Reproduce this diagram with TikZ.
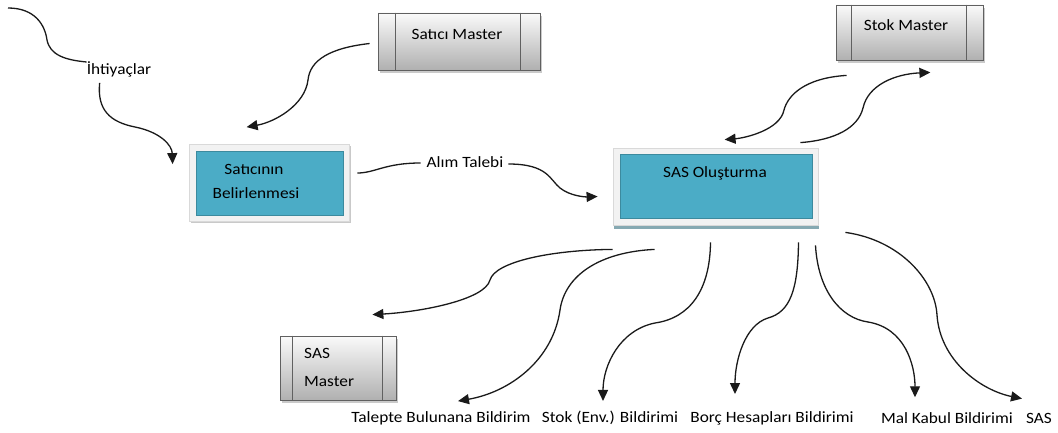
\documentclass[tikz,border=0pt]{standalone}
\usepackage{fontspec}
\setmainfont[FakeStretch=1.1]{Carlito}
\usetikzlibrary{arrows.meta,shadows,calc}
\definecolor{teal5}{HTML}{4BACC6}
\definecolor{framegray}{HTML}{F2F2F2}
\definecolor{ink}{HTML}{1A1A1A}
\begin{document}
\begin{tikzpicture}[x=1pt,y=-1pt,
  every node/.style={font=\fontsize{15.7}{18}\selectfont, text=black, inner sep=0pt},
  lbl/.style={anchor=center},
  conn/.style={draw=ink, line width=1.3pt, -{Triangle[length=11pt,width=10pt]}},
  plain/.style={draw=ink, line width=1.3pt},
  master/.style={draw=gray!75!black, line width=0.8pt, top color=white!96!gray, bottom color=gray!62,
     drop shadow={shadow xshift=2pt, shadow yshift=-3pt, fill=gray!70, opacity=0.6}},
  frame/.style={draw=gray!30, line width=0.8pt, fill=framegray},
  tealbox/.style={fill=teal5, draw=teal5!80!black, line width=0.3pt}
]
\useasboundingbox (0,0) rectangle (1058,433);

% ---- master boxes
\node[master, minimum width=162pt, minimum height=57pt] (satM) at (459,41.5) {};
\draw[gray!75!black, line width=0.8pt] ($(satM.north west)+(18,0)$) -- ($(satM.south west)+(18,0)$)
  ($(satM.north east)+(-20,0)$) -- ($(satM.south east)+(-20,0)$);
\node[lbl] (satMt) at (457,34) {Satıcı Master};

\node[master, minimum width=147pt, minimum height=55pt] (stokM) at (909.5,32.5) {};
\draw[gray!75!black, line width=0.8pt] ($(stokM.north west)+(16,0)$) -- ($(stokM.south west)+(16,0)$)
  ($(stokM.north east)+(-17,0)$) -- ($(stokM.south east)+(-17,0)$);
\node[lbl] (stokMt) at (906,25) {Stok Master};

\node[master, minimum width=116pt, minimum height=64pt] (sasM) at (338,368) {};
\draw[gray!75!black, line width=0.8pt] ($(sasM.north west)+(13,0)$) -- ($(sasM.south west)+(13,0)$)
  ($(sasM.north east)+(-14,0)$) -- ($(sasM.south east)+(-14,0)$);
\node[anchor=west] (sasMt1) at (304,353) {SAS};
\node[anchor=west] (sasMt2) at (304,382) {Master};

% ---- teal process boxes
\node[frame, minimum width=160pt, minimum height=77pt,
  drop shadow={shadow xshift=2pt, shadow yshift=-1.5pt, fill=gray!60, opacity=0.7}] (satBf) at (269,183) {};
\node[tealbox, minimum width=147pt, minimum height=64pt] (satB) at (269.5,183) {};
\node[lbl] (satBt1) at (254,169) {Satıcının};
\node[lbl] (satBt2) at (256,193) {Belirlenmesi};

\node[frame, minimum width=205pt, minimum height=77pt,
  drop shadow={shadow xshift=1pt, shadow yshift=-3.5pt, fill=teal5!45!gray, opacity=0.8}] (sasOf) at (715.5,186.5) {};
\node[tealbox, minimum width=192pt, minimum height=64pt] (sasO) at (716,186) {};
\node[lbl] (sasOt) at (715,173) {SAS Oluşturma};

% ---- labels
\node[lbl] (ihtiyac) at (119,69) {İhtiyaçlar};
\node[lbl] (alim) at (465,162) {Alım Talebi};
\node[lbl] (l1) at (441,418) {Talepte Bulunana Bildirim};
\node[lbl] (l2) at (610,418) {Stok (Env.) Bildirimi};
\node[lbl] (l3) at (772,418) {Borç Hesapları Bildirimi};
\node[lbl] (l4) at (947,418) {Mal Kabul Bildirimi};
\node[lbl] (l5) at (1039,418) {SAS};
\coordinate (src) at (8,8);

% ---- connectors
\draw[plain] (src) .. controls (35,8) and (45,25) .. (47,40) .. controls (50,55) and (65,60) .. ($(ihtiyac.west)+(0,-7)$);
\draw[conn] ($(ihtiyac.south west)+(13,6)$) .. controls (97,110) and (110,122) .. (135,127)
   .. controls (160,132) and (172,145) .. ($(satBf.north west)+(-16,20)$);
\draw[conn] ($(satM.west)+(-8,2)$) .. controls (330,48) and (310,60) .. (308,80)
   .. controls (305,105) and (275,122) .. ($(satBf.north west)+(58,-17)$);
\draw[plain] ($(satBf.east)+(8,-10)$) .. controls (375,173) and (385,163) .. ($(alim.west)+(-6,1)$);
\draw[conn] ($(alim.east)+(5,2)$) .. controls (548,164) and (550,180) .. (560,188)
   .. controls (570,196) and (585,197) .. ($(sasOf.west)+(-15,10)$);
% Stok Master <-> SAS
\draw[conn] ($(stokM.south west)+(11,15)$) .. controls (805,78) and (788,95) .. (784,110)
   .. controls (780,130) and (745,138) .. ($(sasOf.north west)+(112,-8)$);
\draw[conn] ($(sasOf.north east)+(-18,-5)$) .. controls (835,140) and (858,128) .. (863,108)
   .. controls (868,85) and (895,74) .. ($(stokM.south east)+(-53,12)$);
% fan out
\draw[conn] ($(sasOf.south west)+(0,24)$) .. controls (550,250) and (495,262) .. (490,280)
   .. controls (485,300) and (420,312) .. ($(sasM.north east)+(-24,-21)$);
\draw[conn] ($(sasOf.south west)+(42,24)$) .. controls (600,252) and (565,275) .. (560,310)
   .. controls (553,360) and (510,392) .. ($(l1.north)+(17,-10)$);
\draw[conn] ($(sasOf.south)+(-5,17)$) .. controls (710,290) and (690,318) .. (655,323)
   .. controls (620,330) and (603,365) .. ($(l2.north)+(-7,-10)$);
\draw[conn] ($(sasOf.south)+(83,17)$) .. controls (798,290) and (790,312) .. (768,318)
   .. controls (745,325) and (735,360) .. ($(l3.north)+(-37,-17)$);
\draw[conn] ($(sasOf.south)+(100,20)$) .. controls (818,290) and (840,318) .. (868,322)
   .. controls (905,328) and (915,365) .. ($(l4.north)+(-32,-15)$);
\draw[conn] ($(sasOf.south east)+(27,7)$) .. controls (900,240) and (935,280) .. (937,315)
   .. controls (940,360) and (980,390) .. ($(l5.north)+(-17,-14)$);
\end{tikzpicture}
\end{document}
